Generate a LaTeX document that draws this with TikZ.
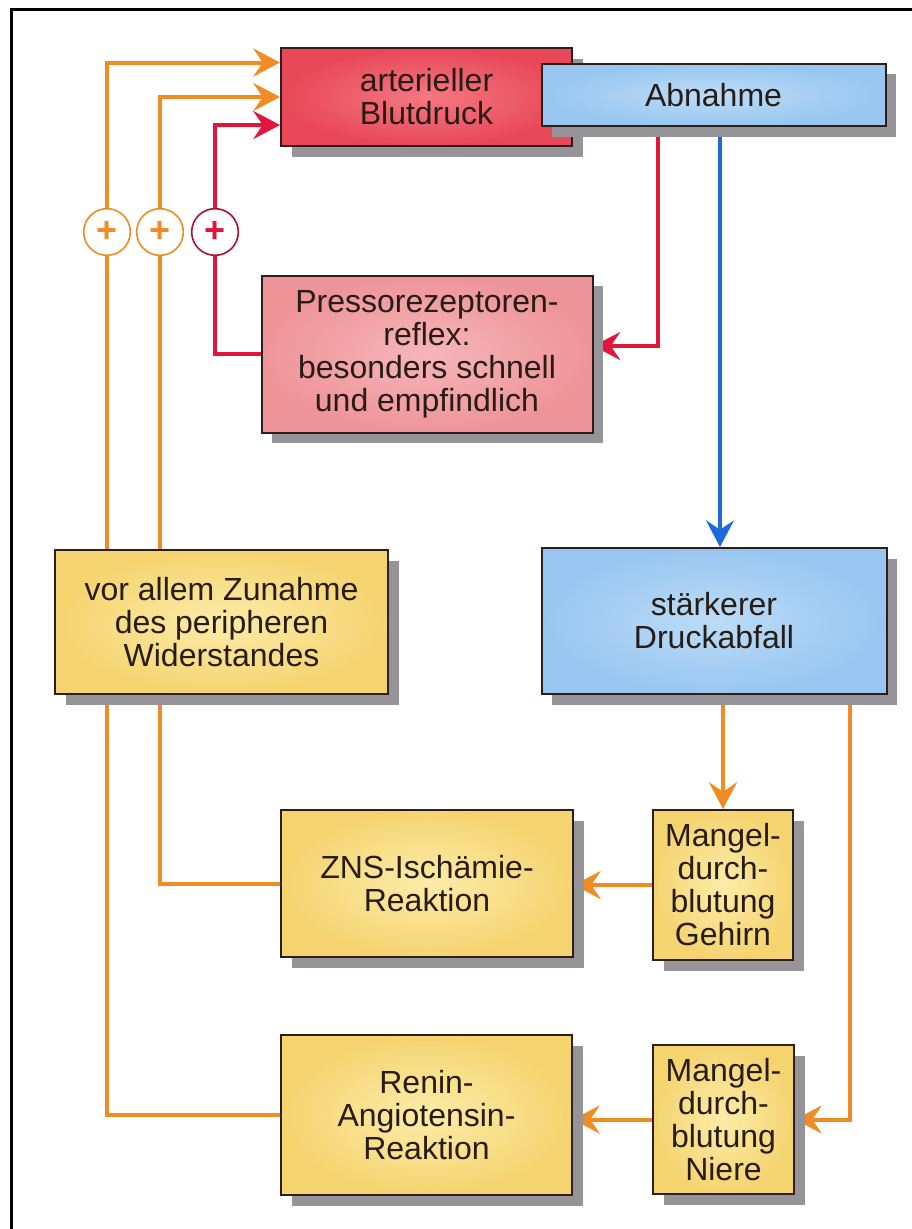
\documentclass[tikz,border=0pt]{standalone}
\usepackage{fontspec}
\setmainfont{Liberation Sans}
\usetikzlibrary{arrows.meta,shadows,backgrounds,calc}
\definecolor{txt}{RGB}{40,28,22}
\definecolor{artred}{RGB}{232,72,88}
\definecolor{artredin}{RGB}{244,120,130}
\definecolor{abnblue}{RGB}{152,198,240}
\definecolor{abnbluein}{RGB}{188,220,248}
\definecolor{pressopink}{RGB}{238,148,153}
\definecolor{pressopinkin}{RGB}{246,182,186}
\definecolor{yelbox}{RGB}{245,212,112}
\definecolor{yelboxin}{RGB}{252,236,168}
\definecolor{boxline}{RGB}{45,30,25}
\definecolor{shadowcol}{RGB}{150,148,152}
\definecolor{orln}{RGB}{240,140,35}
\definecolor{rdln}{RGB}{226,22,60}
\definecolor{blln}{RGB}{30,105,220}
\definecolor{circred}{RGB}{170,20,50}
\begin{document}
\begin{tikzpicture}[x=0.75pt,y=-0.75pt,
  box/.style={draw=boxline, line width=1.5pt, inner sep=0pt, align=center,
    font=\fontsize{24}{24.75}\selectfont, text=txt,
    general shadow={fill=shadowcol, shadow xshift=8pt, shadow yshift=-8pt}},
  redbox/.style={box, inner color=artredin, outer color=artred},
  bluebox/.style={box, inner color=abnbluein, outer color=abnblue},
  pinkbox/.style={box, inner color=pressopinkin, outer color=pressopink},
  yelbx/.style={box, inner color=yelboxin, outer color=yelbox},
  tipstyle/.style={-{Stealth[length=20pt,width=21pt,inset=7pt]}},
  oarr/.style={draw=orln, line width=3pt, tipstyle},
  rarr/.style={draw=rdln, line width=3pt, tipstyle},
  barr/.style={draw=blln, line width=2.4pt, tipstyle},
  plusc/.style={circle, fill=white, line width=1.2pt, minimum size=35pt, inner sep=0pt,
    font=\fontsize{27}{27}\selectfont\bfseries},
]
\useasboundingbox (0,0) rectangle (912,1229);
\draw[line width=2.75pt] (11.5,1229) -- (11.5,9.5) -- (912,9.5);

% boxes
\node[redbox, minimum width=218.25pt, minimum height=73.5pt] (art) at (426.5,97) {arterieller\\Blutdruck};
\node[bluebox, minimum width=258pt, minimum height=47pt] (abn) at (713.5,95) {Abnahme};
\node[pinkbox, minimum width=248.25pt, minimum height=117.75pt] (presso) at (427,354) {Pressorezeptoren-\\reflex:\\besonders schnell\\und empfindlich};
\node[yelbx, minimum width=249.75pt, minimum height=108pt] (vor) at (221.5,622) {vor allem Zunahme\\des peripheren\\Widerstandes};
\node[bluebox, minimum width=258.75pt, minimum height=109.5pt] (stk) at (714,621) {stärkerer\\Druckabfall};
\node[yelbx, minimum width=219pt, minimum height=110.25pt] (zns) at (427,883.5) {ZNS-Ischämie-\\Reaktion};
\node[yelbx, minimum width=105pt, minimum height=112.5pt] (mg) at (723,885) {Mangel-\\durch-\\blutung\\Gehirn};
\node[yelbx, minimum width=218.25pt, minimum height=120pt] (renin) at (426.5,1115) {Renin-\\Angiotensin-\\Reaktion};
\node[yelbx, minimum width=105.75pt, minimum height=111.75pt] (mn) at (723.5,1119.5) {Mangel-\\durch-\\blutung\\Niere};

% plus circles
\node[plusc, draw=orln, text=orln] (p1) at (107,232) {+};
\node[plusc, draw=orln, text=orln] (p2) at (160,232) {+};
\node[plusc, draw=circred, text=rdln] (p3) at (215,232) {+};

\coordinate (c1) at (107,62.5);
\coordinate (c2) at (160,97);
\coordinate (c3) at (215,125);
\coordinate (c4) at (658,0);
\coordinate (c5) at (720,0);
\coordinate (c6) at (850,0);

\begin{pgfonlayer}{background}
\draw[oarr] (renin.west) -- (renin.west -| c1) -- (c1) -- (art.west |- c1);
\draw[oarr] (zns.west) -- (zns.west -| c2) -- (art.west -| c2) -- (art.west);
\draw[rarr] (presso.west) -- (presso.west -| c3) -- (c3) -- (art.west |- c3);
\draw[rarr] (abn.south -| c4) |- ($(presso.east)+(0,-8)$);
\draw[barr] (abn.south -| c5) -- (stk.north -| c5);
\draw[oarr] (stk.south -| mg.north) -- (mg.north);
\draw[oarr] (stk.south -| c6) |- (mn.east);
\draw[oarr] (mg.west) -- (mg.west -| zns.east);
\draw[oarr] (mn.west) -- (mn.west -| renin.east);
\end{pgfonlayer}
\end{tikzpicture}
\end{document}
